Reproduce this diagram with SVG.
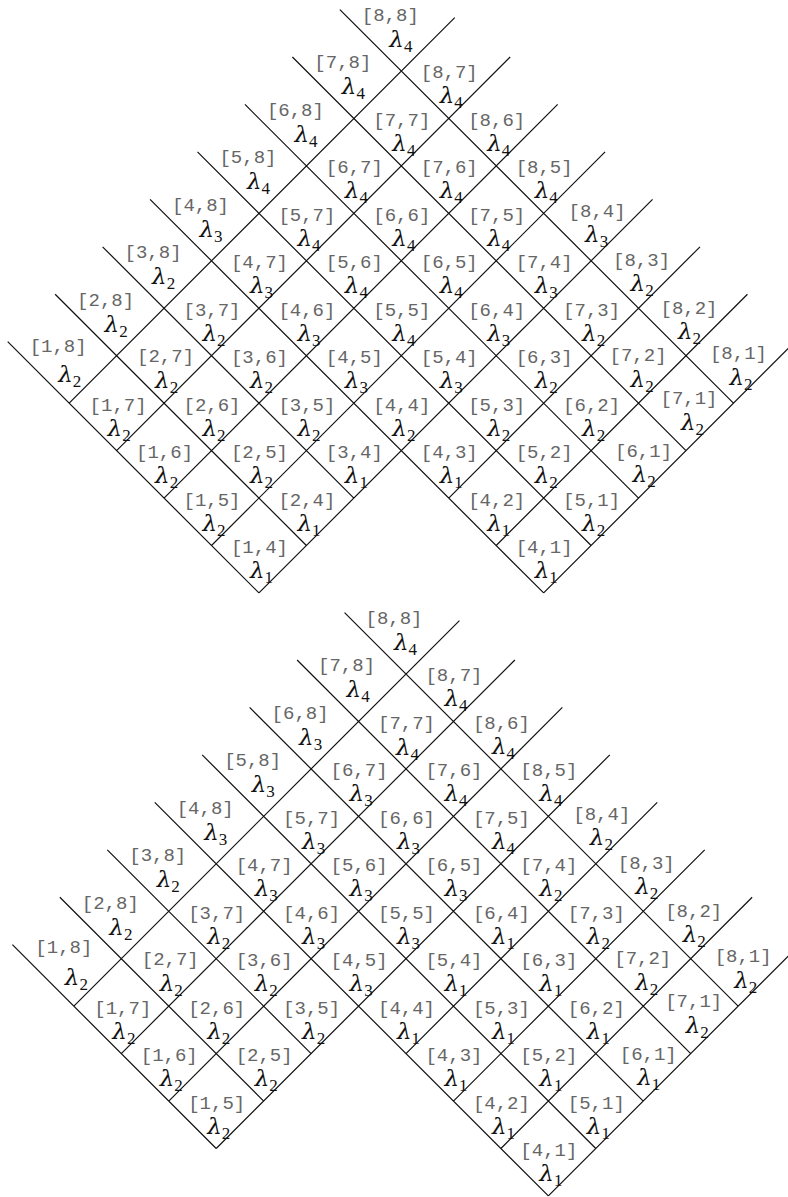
<svg xmlns="http://www.w3.org/2000/svg" width="788" height="1197" viewBox="0 0 788 1197">
<style>
.ln{stroke:#111;stroke-width:1.2;fill:none}
.ix{font-family:"Liberation Mono",monospace;font-size:19px;fill:#666;text-anchor:middle}
.lm{font-family:"DejaVu Serif",serif;font-style:italic;font-size:23px;fill:#111}
.sb{font-family:"Liberation Serif",serif;font-size:17px;font-style:normal}
</style>
<rect width="788" height="1197" fill="#fff"/>
<g id="top" transform="translate(401.3 71)">
<g id="top-connectors">
<path class="ln" d="M-142.35 521.95L-393.6 270.7M-94.9 474.5L-346.15 223.25M-47.45 427.05L-298.7 175.8M142.35 521.95L-251.25 128.35M189.8 474.5L-203.8 80.9M237.25 427.05L-156.35 33.45M284.7 379.6L-108.9 -14M332.15 332.15L-61.45 -61.45M142.35 521.95L393.6 270.7M94.9 474.5L346.15 223.25M47.45 427.05L298.7 175.8M-142.35 521.95L251.25 128.35M-189.8 474.5L203.8 80.9M-237.25 427.05L156.35 33.45M-284.7 379.6L108.9 -14M-332.15 332.15L53.45 -53.45"/>
</g>
<g id="t88" transform="translate(0 0)"><text class="ix" x="-11" y="-50">[8,8]</text><text class="lm" x="-12" y="-24">λ<tspan class="sb" dy="5">4</tspan></text></g>
<g id="t78" transform="translate(-47.45 47.45)"><text class="ix" x="-11" y="-50">[7,8]</text><text class="lm" x="-12" y="-24">λ<tspan class="sb" dy="5">4</tspan></text></g>
<g id="t87" transform="translate(47.45 47.45)"><text class="ix" x="0.5" y="-40">[8,7]</text><text class="lm" x="-9" y="-15">λ<tspan class="sb" dy="5">4</tspan></text></g>
<g id="t68" transform="translate(-94.9 94.9)"><text class="ix" x="-11" y="-50">[6,8]</text><text class="lm" x="-12" y="-24">λ<tspan class="sb" dy="5">4</tspan></text></g>
<g id="t77" transform="translate(0 94.9)"><text class="ix" x="0.5" y="-40">[7,7]</text><text class="lm" x="-9" y="-15">λ<tspan class="sb" dy="5">4</tspan></text></g>
<g id="t86" transform="translate(94.9 94.9)"><text class="ix" x="0.5" y="-40">[8,6]</text><text class="lm" x="-9" y="-15">λ<tspan class="sb" dy="5">4</tspan></text></g>
<g id="t58" transform="translate(-142.35 142.35)"><text class="ix" x="-11" y="-50">[5,8]</text><text class="lm" x="-12" y="-24">λ<tspan class="sb" dy="5">4</tspan></text></g>
<g id="t67" transform="translate(-47.45 142.35)"><text class="ix" x="0.5" y="-40">[6,7]</text><text class="lm" x="-9" y="-15">λ<tspan class="sb" dy="5">4</tspan></text></g>
<g id="t76" transform="translate(47.45 142.35)"><text class="ix" x="0.5" y="-40">[7,6]</text><text class="lm" x="-9" y="-15">λ<tspan class="sb" dy="5">4</tspan></text></g>
<g id="t85" transform="translate(142.35 142.35)"><text class="ix" x="0.5" y="-40">[8,5]</text><text class="lm" x="-9" y="-15">λ<tspan class="sb" dy="5">4</tspan></text></g>
<g id="t48" transform="translate(-189.8 189.8)"><text class="ix" x="-11" y="-50">[4,8]</text><text class="lm" x="-12" y="-24">λ<tspan class="sb" dy="5">3</tspan></text></g>
<g id="t57" transform="translate(-94.9 189.8)"><text class="ix" x="0.5" y="-40">[5,7]</text><text class="lm" x="-9" y="-15">λ<tspan class="sb" dy="5">4</tspan></text></g>
<g id="t66" transform="translate(0 189.8)"><text class="ix" x="0.5" y="-40">[6,6]</text><text class="lm" x="-9" y="-15">λ<tspan class="sb" dy="5">4</tspan></text></g>
<g id="t75" transform="translate(94.9 189.8)"><text class="ix" x="0.5" y="-40">[7,5]</text><text class="lm" x="-9" y="-15">λ<tspan class="sb" dy="5">4</tspan></text></g>
<g id="t84" transform="translate(189.8 189.8)"><text class="ix" x="6" y="-44">[8,4]</text><text class="lm" x="-6" y="-19">λ<tspan class="sb" dy="5">3</tspan></text></g>
<g id="t38" transform="translate(-237.25 237.25)"><text class="ix" x="-11" y="-50">[3,8]</text><text class="lm" x="-12" y="-24">λ<tspan class="sb" dy="5">2</tspan></text></g>
<g id="t47" transform="translate(-142.35 237.25)"><text class="ix" x="0.5" y="-40">[4,7]</text><text class="lm" x="-9" y="-15">λ<tspan class="sb" dy="5">3</tspan></text></g>
<g id="t56" transform="translate(-47.45 237.25)"><text class="ix" x="0.5" y="-40">[5,6]</text><text class="lm" x="-9" y="-15">λ<tspan class="sb" dy="5">4</tspan></text></g>
<g id="t65" transform="translate(47.45 237.25)"><text class="ix" x="0.5" y="-40">[6,5]</text><text class="lm" x="-9" y="-15">λ<tspan class="sb" dy="5">4</tspan></text></g>
<g id="t74" transform="translate(142.35 237.25)"><text class="ix" x="0.5" y="-40">[7,4]</text><text class="lm" x="-9" y="-15">λ<tspan class="sb" dy="5">3</tspan></text></g>
<g id="t83" transform="translate(237.25 237.25)"><text class="ix" x="3" y="-42">[8,3]</text><text class="lm" x="-8" y="-17">λ<tspan class="sb" dy="5">2</tspan></text></g>
<g id="t28" transform="translate(-284.7 284.7)"><text class="ix" x="-11" y="-50">[2,8]</text><text class="lm" x="-12" y="-24">λ<tspan class="sb" dy="5">2</tspan></text></g>
<g id="t37" transform="translate(-189.8 284.7)"><text class="ix" x="0.5" y="-40">[3,7]</text><text class="lm" x="-9" y="-15">λ<tspan class="sb" dy="5">2</tspan></text></g>
<g id="t46" transform="translate(-94.9 284.7)"><text class="ix" x="0.5" y="-40">[4,6]</text><text class="lm" x="-9" y="-15">λ<tspan class="sb" dy="5">3</tspan></text></g>
<g id="t55" transform="translate(0 284.7)"><text class="ix" x="0.5" y="-40">[5,5]</text><text class="lm" x="-9" y="-15">λ<tspan class="sb" dy="5">4</tspan></text></g>
<g id="t64" transform="translate(94.9 284.7)"><text class="ix" x="0.5" y="-40">[6,4]</text><text class="lm" x="-9" y="-15">λ<tspan class="sb" dy="5">3</tspan></text></g>
<g id="t73" transform="translate(189.8 284.7)"><text class="ix" x="0.5" y="-40">[7,3]</text><text class="lm" x="-9" y="-15">λ<tspan class="sb" dy="5">2</tspan></text></g>
<g id="t82" transform="translate(284.7 284.7)"><text class="ix" x="3" y="-42">[8,2]</text><text class="lm" x="-8" y="-17">λ<tspan class="sb" dy="5">2</tspan></text></g>
<g id="t18" transform="translate(-332.15 332.15)"><text class="ix" x="-11" y="-51">[1,8]</text><text class="lm" x="-11" y="-21">λ<tspan class="sb" dy="5">2</tspan></text></g>
<g id="t27" transform="translate(-237.25 332.15)"><text class="ix" x="1.5" y="-41">[2,7]</text><text class="lm" x="-9" y="-15">λ<tspan class="sb" dy="5">2</tspan></text></g>
<g id="t36" transform="translate(-142.35 332.15)"><text class="ix" x="0.5" y="-40">[3,6]</text><text class="lm" x="-9" y="-15">λ<tspan class="sb" dy="5">2</tspan></text></g>
<g id="t45" transform="translate(-47.45 332.15)"><text class="ix" x="0.5" y="-40">[4,5]</text><text class="lm" x="-9" y="-15">λ<tspan class="sb" dy="5">3</tspan></text></g>
<g id="t54" transform="translate(47.45 332.15)"><text class="ix" x="0.5" y="-40">[5,4]</text><text class="lm" x="-9" y="-15">λ<tspan class="sb" dy="5">3</tspan></text></g>
<g id="t63" transform="translate(142.35 332.15)"><text class="ix" x="0.5" y="-40">[6,3]</text><text class="lm" x="-9" y="-15">λ<tspan class="sb" dy="5">2</tspan></text></g>
<g id="t72" transform="translate(237.25 332.15)"><text class="ix" x="-0.5" y="-42">[7,2]</text><text class="lm" x="-8" y="-16">λ<tspan class="sb" dy="5">2</tspan></text></g>
<g id="t81" transform="translate(332.15 332.15)"><text class="ix" x="5" y="-44">[8,1]</text><text class="lm" x="-4" y="-18">λ<tspan class="sb" dy="5">2</tspan></text></g>
<g id="t17" transform="translate(-284.7 379.6)"><text class="ix" x="1.5" y="-40">[1,7]</text><text class="lm" x="-9" y="-15">λ<tspan class="sb" dy="5">2</tspan></text></g>
<g id="t26" transform="translate(-189.8 379.6)"><text class="ix" x="0.5" y="-40">[2,6]</text><text class="lm" x="-9" y="-15">λ<tspan class="sb" dy="5">2</tspan></text></g>
<g id="t35" transform="translate(-94.9 379.6)"><text class="ix" x="0.5" y="-40">[3,5]</text><text class="lm" x="-9" y="-15">λ<tspan class="sb" dy="5">2</tspan></text></g>
<g id="t44" transform="translate(0 379.6)"><text class="ix" x="0.5" y="-40">[4,4]</text><text class="lm" x="-9" y="-15">λ<tspan class="sb" dy="5">2</tspan></text></g>
<g id="t53" transform="translate(94.9 379.6)"><text class="ix" x="0.5" y="-40">[5,3]</text><text class="lm" x="-9" y="-15">λ<tspan class="sb" dy="5">2</tspan></text></g>
<g id="t62" transform="translate(189.8 379.6)"><text class="ix" x="0.5" y="-40">[6,2]</text><text class="lm" x="-9" y="-15">λ<tspan class="sb" dy="5">2</tspan></text></g>
<g id="t71" transform="translate(284.7 379.6)"><text class="ix" x="3" y="-47">[7,1]</text><text class="lm" x="-5" y="-21">λ<tspan class="sb" dy="5">2</tspan></text></g>
<g id="t16" transform="translate(-237.25 427.05)"><text class="ix" x="0.5" y="-40">[1,6]</text><text class="lm" x="-9" y="-15">λ<tspan class="sb" dy="5">2</tspan></text></g>
<g id="t25" transform="translate(-142.35 427.05)"><text class="ix" x="0.5" y="-40">[2,5]</text><text class="lm" x="-9" y="-15">λ<tspan class="sb" dy="5">2</tspan></text></g>
<g id="t34" transform="translate(-47.45 427.05)"><text class="ix" x="0.5" y="-40">[3,4]</text><text class="lm" x="-9" y="-15">λ<tspan class="sb" dy="5">1</tspan></text></g>
<g id="t43" transform="translate(47.45 427.05)"><text class="ix" x="0.5" y="-40">[4,3]</text><text class="lm" x="-9" y="-15">λ<tspan class="sb" dy="5">1</tspan></text></g>
<g id="t52" transform="translate(142.35 427.05)"><text class="ix" x="0.5" y="-40">[5,2]</text><text class="lm" x="-9" y="-15">λ<tspan class="sb" dy="5">2</tspan></text></g>
<g id="t61" transform="translate(237.25 427.05)"><text class="ix" x="5" y="-41">[6,1]</text><text class="lm" x="-6" y="-16">λ<tspan class="sb" dy="5">2</tspan></text></g>
<g id="t15" transform="translate(-189.8 474.5)"><text class="ix" x="0.5" y="-40">[1,5]</text><text class="lm" x="-9" y="-15">λ<tspan class="sb" dy="5">2</tspan></text></g>
<g id="t24" transform="translate(-94.9 474.5)"><text class="ix" x="0.5" y="-40">[2,4]</text><text class="lm" x="-9" y="-15">λ<tspan class="sb" dy="5">1</tspan></text></g>
<g id="t42" transform="translate(94.9 474.5)"><text class="ix" x="0.5" y="-40">[4,2]</text><text class="lm" x="-9" y="-15">λ<tspan class="sb" dy="5">1</tspan></text></g>
<g id="t51" transform="translate(189.8 474.5)"><text class="ix" x="0.5" y="-40">[5,1]</text><text class="lm" x="-9" y="-15">λ<tspan class="sb" dy="5">2</tspan></text></g>
<g id="t14" transform="translate(-142.35 521.95)"><text class="ix" x="0.5" y="-40">[1,4]</text><text class="lm" x="-9" y="-15">λ<tspan class="sb" dy="5">1</tspan></text></g>
<g id="t41" transform="translate(142.35 521.95)"><text class="ix" x="0.5" y="-40">[4,1]</text><text class="lm" x="-9" y="-15">λ<tspan class="sb" dy="5">1</tspan></text></g>
</g>
<g id="bottom" transform="translate(406 674)">
<g id="bottom-connectors">
<path class="ln" d="M-189.8 474.5L-393.6 270.7M-142.35 427.05L-346.15 223.25M-94.9 379.6L-298.7 175.8M142.35 521.95L-251.25 128.35M189.8 474.5L-203.8 80.9M237.25 427.05L-156.35 33.45M284.7 379.6L-108.9 -14M332.15 332.15L-61.45 -61.45M142.35 521.95L393.6 270.7M94.9 474.5L346.15 223.25M47.45 427.05L298.7 175.8M0 379.6L251.25 128.35M-189.8 474.5L203.8 80.9M-237.25 427.05L156.35 33.45M-284.7 379.6L108.9 -14M-332.15 332.15L53.45 -53.45"/>
</g>
<g id="b88" transform="translate(0 0)"><text class="ix" x="-12" y="-50">[8,8]</text><text class="lm" x="-12" y="-24">λ<tspan class="sb" dy="5">4</tspan></text></g>
<g id="b78" transform="translate(-47.45 47.45)"><text class="ix" x="-12" y="-50">[7,8]</text><text class="lm" x="-12" y="-24">λ<tspan class="sb" dy="5">4</tspan></text></g>
<g id="b87" transform="translate(47.45 47.45)"><text class="ix" x="0.5" y="-40">[8,7]</text><text class="lm" x="-9" y="-15">λ<tspan class="sb" dy="5">4</tspan></text></g>
<g id="b68" transform="translate(-94.9 94.9)"><text class="ix" x="-11" y="-50">[6,8]</text><text class="lm" x="-12" y="-24">λ<tspan class="sb" dy="5">3</tspan></text></g>
<g id="b77" transform="translate(0 94.9)"><text class="ix" x="0.5" y="-40">[7,7]</text><text class="lm" x="-10" y="-14">λ<tspan class="sb" dy="5">4</tspan></text></g>
<g id="b86" transform="translate(94.9 94.9)"><text class="ix" x="0.5" y="-40">[8,6]</text><text class="lm" x="-9" y="-15">λ<tspan class="sb" dy="5">4</tspan></text></g>
<g id="b58" transform="translate(-142.35 142.35)"><text class="ix" x="-11" y="-50">[5,8]</text><text class="lm" x="-12" y="-24">λ<tspan class="sb" dy="5">3</tspan></text></g>
<g id="b67" transform="translate(-47.45 142.35)"><text class="ix" x="0.5" y="-40">[6,7]</text><text class="lm" x="-9" y="-15">λ<tspan class="sb" dy="5">3</tspan></text></g>
<g id="b76" transform="translate(47.45 142.35)"><text class="ix" x="0.5" y="-40">[7,6]</text><text class="lm" x="-9" y="-15">λ<tspan class="sb" dy="5">4</tspan></text></g>
<g id="b85" transform="translate(142.35 142.35)"><text class="ix" x="0.5" y="-40">[8,5]</text><text class="lm" x="-9" y="-15">λ<tspan class="sb" dy="5">4</tspan></text></g>
<g id="b48" transform="translate(-189.8 189.8)"><text class="ix" x="-11" y="-50">[4,8]</text><text class="lm" x="-12" y="-24">λ<tspan class="sb" dy="5">3</tspan></text></g>
<g id="b57" transform="translate(-94.9 189.8)"><text class="ix" x="0.5" y="-40">[5,7]</text><text class="lm" x="-9" y="-15">λ<tspan class="sb" dy="5">3</tspan></text></g>
<g id="b66" transform="translate(0 189.8)"><text class="ix" x="0.5" y="-40">[6,6]</text><text class="lm" x="-9" y="-15">λ<tspan class="sb" dy="5">3</tspan></text></g>
<g id="b75" transform="translate(94.9 189.8)"><text class="ix" x="0.5" y="-40">[7,5]</text><text class="lm" x="-9" y="-15">λ<tspan class="sb" dy="5">4</tspan></text></g>
<g id="b84" transform="translate(189.8 189.8)"><text class="ix" x="6" y="-44">[8,4]</text><text class="lm" x="-6" y="-19">λ<tspan class="sb" dy="5">2</tspan></text></g>
<g id="b38" transform="translate(-237.25 237.25)"><text class="ix" x="-11" y="-50">[3,8]</text><text class="lm" x="-12" y="-24">λ<tspan class="sb" dy="5">2</tspan></text></g>
<g id="b47" transform="translate(-142.35 237.25)"><text class="ix" x="0.5" y="-40">[4,7]</text><text class="lm" x="-9" y="-15">λ<tspan class="sb" dy="5">3</tspan></text></g>
<g id="b56" transform="translate(-47.45 237.25)"><text class="ix" x="0.5" y="-40">[5,6]</text><text class="lm" x="-9" y="-15">λ<tspan class="sb" dy="5">3</tspan></text></g>
<g id="b65" transform="translate(47.45 237.25)"><text class="ix" x="0.5" y="-40">[6,5]</text><text class="lm" x="-9" y="-15">λ<tspan class="sb" dy="5">3</tspan></text></g>
<g id="b74" transform="translate(142.35 237.25)"><text class="ix" x="0.5" y="-40">[7,4]</text><text class="lm" x="-9" y="-15">λ<tspan class="sb" dy="5">2</tspan></text></g>
<g id="b83" transform="translate(237.25 237.25)"><text class="ix" x="3" y="-42">[8,3]</text><text class="lm" x="-8" y="-17">λ<tspan class="sb" dy="5">2</tspan></text></g>
<g id="b28" transform="translate(-284.7 284.7)"><text class="ix" x="-11" y="-50">[2,8]</text><text class="lm" x="-12" y="-24">λ<tspan class="sb" dy="5">2</tspan></text></g>
<g id="b37" transform="translate(-189.8 284.7)"><text class="ix" x="0.5" y="-40">[3,7]</text><text class="lm" x="-9" y="-15">λ<tspan class="sb" dy="5">2</tspan></text></g>
<g id="b46" transform="translate(-94.9 284.7)"><text class="ix" x="0.5" y="-40">[4,6]</text><text class="lm" x="-9" y="-15">λ<tspan class="sb" dy="5">3</tspan></text></g>
<g id="b55" transform="translate(0 284.7)"><text class="ix" x="0.5" y="-40">[5,5]</text><text class="lm" x="-9" y="-15">λ<tspan class="sb" dy="5">3</tspan></text></g>
<g id="b64" transform="translate(94.9 284.7)"><text class="ix" x="0.5" y="-40">[6,4]</text><text class="lm" x="-9" y="-15">λ<tspan class="sb" dy="5">1</tspan></text></g>
<g id="b73" transform="translate(189.8 284.7)"><text class="ix" x="0.5" y="-40">[7,3]</text><text class="lm" x="-9" y="-15">λ<tspan class="sb" dy="5">2</tspan></text></g>
<g id="b82" transform="translate(284.7 284.7)"><text class="ix" x="3" y="-42">[8,2]</text><text class="lm" x="-8" y="-17">λ<tspan class="sb" dy="5">2</tspan></text></g>
<g id="b18" transform="translate(-332.15 332.15)"><text class="ix" x="-10" y="-53">[1,8]</text><text class="lm" x="-9" y="-21">λ<tspan class="sb" dy="5">2</tspan></text></g>
<g id="b27" transform="translate(-237.25 332.15)"><text class="ix" x="1.5" y="-41">[2,7]</text><text class="lm" x="-9" y="-15">λ<tspan class="sb" dy="5">2</tspan></text></g>
<g id="b36" transform="translate(-142.35 332.15)"><text class="ix" x="0.5" y="-40">[3,6]</text><text class="lm" x="-9" y="-15">λ<tspan class="sb" dy="5">2</tspan></text></g>
<g id="b45" transform="translate(-47.45 332.15)"><text class="ix" x="0.5" y="-40">[4,5]</text><text class="lm" x="-9" y="-15">λ<tspan class="sb" dy="5">3</tspan></text></g>
<g id="b54" transform="translate(47.45 332.15)"><text class="ix" x="0.5" y="-40">[5,4]</text><text class="lm" x="-9" y="-15">λ<tspan class="sb" dy="5">1</tspan></text></g>
<g id="b63" transform="translate(142.35 332.15)"><text class="ix" x="0.5" y="-40">[6,3]</text><text class="lm" x="-9" y="-15">λ<tspan class="sb" dy="5">1</tspan></text></g>
<g id="b72" transform="translate(237.25 332.15)"><text class="ix" x="-0.5" y="-42">[7,2]</text><text class="lm" x="-8" y="-16">λ<tspan class="sb" dy="5">2</tspan></text></g>
<g id="b81" transform="translate(332.15 332.15)"><text class="ix" x="5" y="-44">[8,1]</text><text class="lm" x="-4" y="-18">λ<tspan class="sb" dy="5">2</tspan></text></g>
<g id="b17" transform="translate(-284.7 379.6)"><text class="ix" x="1.5" y="-40">[1,7]</text><text class="lm" x="-9" y="-15">λ<tspan class="sb" dy="5">2</tspan></text></g>
<g id="b26" transform="translate(-189.8 379.6)"><text class="ix" x="0.5" y="-40">[2,6]</text><text class="lm" x="-9" y="-15">λ<tspan class="sb" dy="5">2</tspan></text></g>
<g id="b35" transform="translate(-94.9 379.6)"><text class="ix" x="0.5" y="-40">[3,5]</text><text class="lm" x="-9" y="-15">λ<tspan class="sb" dy="5">2</tspan></text></g>
<g id="b44" transform="translate(0 379.6)"><text class="ix" x="0.5" y="-40">[4,4]</text><text class="lm" x="-9" y="-15">λ<tspan class="sb" dy="5">1</tspan></text></g>
<g id="b53" transform="translate(94.9 379.6)"><text class="ix" x="0.5" y="-40">[5,3]</text><text class="lm" x="-9" y="-15">λ<tspan class="sb" dy="5">1</tspan></text></g>
<g id="b62" transform="translate(189.8 379.6)"><text class="ix" x="0.5" y="-40">[6,2]</text><text class="lm" x="-9" y="-15">λ<tspan class="sb" dy="5">1</tspan></text></g>
<g id="b71" transform="translate(284.7 379.6)"><text class="ix" x="3" y="-47">[7,1]</text><text class="lm" x="-5" y="-21">λ<tspan class="sb" dy="5">2</tspan></text></g>
<g id="b16" transform="translate(-237.25 427.05)"><text class="ix" x="0.5" y="-40">[1,6]</text><text class="lm" x="-9" y="-15">λ<tspan class="sb" dy="5">2</tspan></text></g>
<g id="b25" transform="translate(-142.35 427.05)"><text class="ix" x="0.5" y="-40">[2,5]</text><text class="lm" x="-9" y="-15">λ<tspan class="sb" dy="5">2</tspan></text></g>
<g id="b43" transform="translate(47.45 427.05)"><text class="ix" x="0.5" y="-40">[4,3]</text><text class="lm" x="-9" y="-15">λ<tspan class="sb" dy="5">1</tspan></text></g>
<g id="b52" transform="translate(142.35 427.05)"><text class="ix" x="0.5" y="-40">[5,2]</text><text class="lm" x="-9" y="-15">λ<tspan class="sb" dy="5">1</tspan></text></g>
<g id="b61" transform="translate(237.25 427.05)"><text class="ix" x="5" y="-41">[6,1]</text><text class="lm" x="-6" y="-16">λ<tspan class="sb" dy="5">1</tspan></text></g>
<g id="b15" transform="translate(-189.8 474.5)"><text class="ix" x="0.5" y="-40">[1,5]</text><text class="lm" x="-9" y="-15">λ<tspan class="sb" dy="5">2</tspan></text></g>
<g id="b42" transform="translate(94.9 474.5)"><text class="ix" x="0.5" y="-40">[4,2]</text><text class="lm" x="-9" y="-15">λ<tspan class="sb" dy="5">1</tspan></text></g>
<g id="b51" transform="translate(189.8 474.5)"><text class="ix" x="0.5" y="-40">[5,1]</text><text class="lm" x="-9" y="-15">λ<tspan class="sb" dy="5">1</tspan></text></g>
<g id="b41" transform="translate(142.35 521.95)"><text class="ix" x="0.5" y="-40">[4,1]</text><text class="lm" x="-9" y="-15">λ<tspan class="sb" dy="5">1</tspan></text></g>
</g>
</svg>
